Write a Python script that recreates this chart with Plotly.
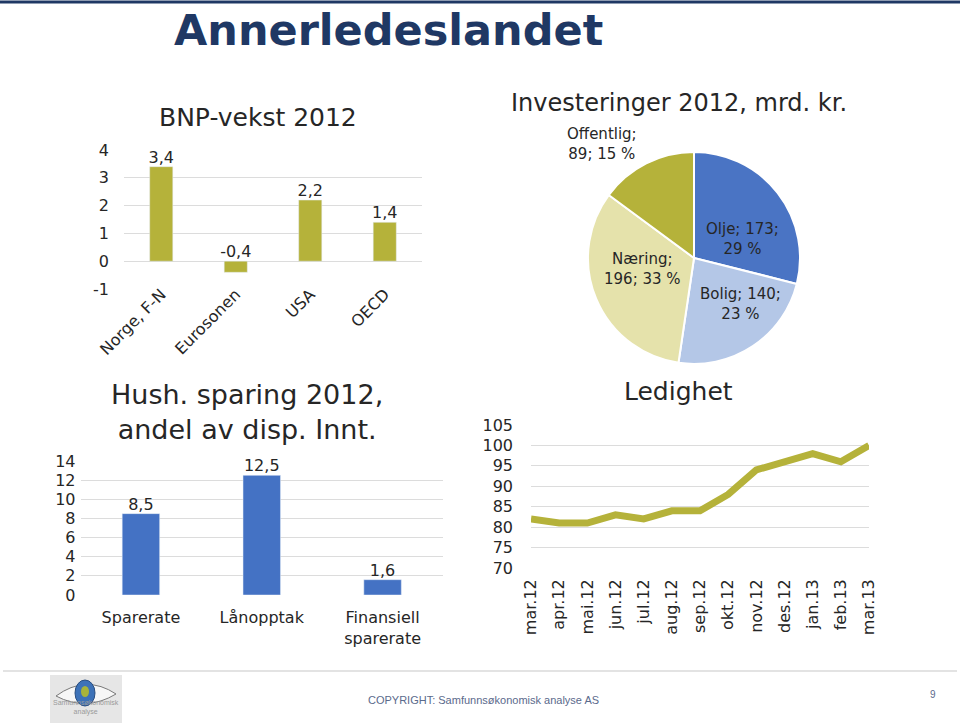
import plotly.graph_objects as go

# ---------------- data ----------------
bnp_categories = ["Norge, F-N", "Eurosonen", "USA", "OECD"]
bnp_values = [3.4, -0.4, 2.2, 1.4]
bnp_ticks = [-1, 0, 1, 2, 3, 4]

inv_labels = ["Olje", "Bolig", "Næring", "Offentlig"]
inv_values = [173, 140, 196, 89]
inv_pct = [29, 23, 33, 15]

spar_categories = ["Sparerate", "Lånopptak", "Finansiell<br>sparerate"]
spar_values = [8.5, 12.5, 1.6]
spar_ticks = [0, 2, 4, 6, 8, 10, 12, 14]

led_months = ["mar.12", "apr.12", "mai.12", "jun.12", "jul.12", "aug.12", "sep.12",
              "okt.12", "nov.12", "des.12", "jan.13", "feb.13", "mar.13"]
led_values = [82, 81, 81, 83, 82, 84, 84, 88, 94, 96, 98, 96, 100]
led_ticks = [70, 75, 80, 85, 90, 95, 100, 105]

# ---------------- styling ----------------
W, H = 960, 724
OLIVE = "#B5B23A"
BLUE = "#4472C4"
PIE_COLORS = ["#4A74C4", "#B4C7E7", "#E5E2AB", "#B5B23A"]
NAVY = "#1F3864"
TXT = "#262626"
GRID = "#DCDCDC"
FONT = "DejaVu Sans, Verdana, sans-serif"


def px(x):
    return x / W


def py(y):
    return 1 - y / H


def fmt(v):
    return f"{v:.1f}".replace(".", ",")


def tlabel(v):
    return str(v).replace("−", "-")


fig = go.Figure()

# BNP bars
fig.add_trace(go.Bar(x=bnp_categories, y=bnp_values, marker_color=OLIVE, width=0.31,
                     xaxis="x", yaxis="y", hoverinfo="skip"))
fig.add_trace(go.Scatter(x=bnp_categories, y=[max(v, 0) for v in bnp_values],
                         text=[fmt(v) for v in bnp_values], mode="text",
                         textposition="top center",
                         textfont=dict(size=16, color=TXT, family=FONT),
                         xaxis="x", yaxis="y", hoverinfo="skip", cliponaxis=False))

# Pie
fig.add_trace(go.Pie(labels=inv_labels, values=inv_values, sort=False, direction="clockwise",
                     rotation=0, marker=dict(colors=PIE_COLORS, line=dict(color="white", width=2)),
                     textinfo="none", hoverinfo="skip",
                     domain=dict(x=[px(588), px(800)], y=[py(364), py(152)])))

# Sparing bars
fig.add_trace(go.Bar(x=spar_categories, y=spar_values, marker_color=BLUE, width=0.31,
                     xaxis="x2", yaxis="y2", hoverinfo="skip"))
fig.add_trace(go.Scatter(x=spar_categories, y=spar_values,
                         text=[fmt(v) for v in spar_values], mode="text",
                         textposition="top center",
                         textfont=dict(size=16, color=TXT, family=FONT),
                         xaxis="x2", yaxis="y2", hoverinfo="skip", cliponaxis=False))

# Ledighet line
fig.add_trace(go.Scatter(x=led_months, y=led_values, mode="lines",
                         line=dict(color=OLIVE, width=7),
                         xaxis="x3", yaxis="y3", hoverinfo="skip"))

tickfont = dict(size=16, color=TXT, family=FONT)

fig.update_layout(
    width=W, height=H, margin=dict(l=0, r=0, t=0, b=0, autoexpand=False),
    paper_bgcolor="white", plot_bgcolor="white", showlegend=False,
    font=dict(family=FONT, color=TXT),
    xaxis=dict(domain=[px(124), px(422)], tickangle=-45, tickfont=tickfont, automargin=False,
               showgrid=False, showline=False, ticks="", ticklabelstandoff=-8),
    yaxis=dict(domain=[py(289), py(150)], range=[-1, 4], tickvals=bnp_ticks,
               ticktext=[tlabel(v) for v in bnp_ticks], automargin=False,
               tickfont=tickfont, gridcolor=GRID, zeroline=False, showline=False,
               ticklabelstandoff=14, anchor="x"),
    xaxis2=dict(domain=[px(80.5), px(443)], tickfont=tickfont, showgrid=False, automargin=False,
                showline=False, ticks="", anchor="y2", ticklabelstandoff=11),
    yaxis2=dict(domain=[py(595), py(461)], range=[0, 14], tickvals=spar_ticks,
                ticktext=[tlabel(v) for v in spar_ticks], automargin=False,
                tickfont=tickfont, gridcolor=GRID, zeroline=False, showline=False,
                anchor="x2", ticklabelstandoff=4),
    xaxis3=dict(domain=[px(531), px(869)], tickangle=-90, tickfont=tickfont, automargin=False,
                showgrid=False, showline=False, ticks="", anchor="y3",
                ticklabelstandoff=7),
    yaxis3=dict(domain=[py(568), py(425)], range=[70, 105], tickvals=led_ticks,
                ticktext=[tlabel(v) for v in led_ticks], automargin=False,
                tickfont=tickfont, gridcolor=GRID, zeroline=False, showline=False,
                anchor="x3", ticklabelstandoff=17),
    bargap=0.69,
)

annotations = []


def ann(text, x, y, size, color=TXT, bold=False, family=FONT, xanchor="center"):
    annotations.append(dict(text=f"<b>{text}</b>" if bold else text, x=px(x), y=py(y),
                            xref="paper", yref="paper", showarrow=False,
                            xanchor=xanchor, yanchor="middle",
                            font=dict(size=size, color=color, family=family)))


ann("Annerledeslandet", 388, 30, 43, color=NAVY, bold=True)
ann("BNP-vekst 2012", 258, 118, 25)
ann("Investeringer 2012, mrd. kr.", 679, 103, 24)
ann("Hush. sparing 2012,<br>andel av disp. Innt.", 247, 412, 27)
ann("Ledighet", 678, 392, 25)

pie_label_pos = [(742, 239), (740, 304), (642, 269), (602, 144)]
for lab, val, pct, (lx, ly) in zip(inv_labels, inv_values, inv_pct, pie_label_pos):
    ann(f"{lab}; {val};<br>{pct} %" if lab != "Næring" and lab != "Offentlig"
        else f"{lab};<br>{val}; {pct} %", lx, ly, 15)

ann("COPYRIGHT: Samfunnsøkonomisk analyse AS", 483, 700, 11, color="#5B6A8C",
    family="Liberation Sans, Arial, sans-serif")
ann("9", 933, 694, 10, color="#5B6A8C", family="Liberation Sans, Arial, sans-serif")
ann("Samfunnsøkonomisk<br>analyse", 121, 707, 7, color="#9A9A9A",
    family="Liberation Sans, Arial, sans-serif", xanchor="right")

fig.update_layout(annotations=annotations)

shapes = [
    dict(type="line", xref="paper", yref="paper", x0=0, x1=1, y0=py(2), y1=py(2),
         line=dict(color=NAVY, width=3)),
    dict(type="line", xref="paper", yref="paper", x0=px(3), x1=px(957), y0=py(671), y1=py(671),
         line=dict(color="#E3E3E3", width=2)),
    # logo approximation
    dict(type="rect", xref="paper", yref="paper", x0=px(50), x1=px(122), y0=py(723), y1=py(675),
         fillcolor="#E6E6E6", line=dict(width=0), layer="below"),
    dict(type="path", xref="paper", yref="paper",
         path=f"M {px(56)},{py(696)} Q {px(86)},{py(674)} {px(116)},{py(694)} "
              f"Q {px(86)},{py(712)} {px(56)},{py(696)} Z",
         fillcolor="#F7F7F7", line=dict(color="#7A7A7A", width=1)),
    dict(type="circle", xref="paper", yref="paper", x0=px(75), x1=px(95), y0=py(706), y1=py(680),
         fillcolor="#3D72B8", line=dict(color="#2A4E80", width=1)),
    dict(type="circle", xref="paper", yref="paper", x0=px(81), x1=px(89), y0=py(697), y1=py(686),
         fillcolor="#A8B43A", line=dict(width=0)),
]
fig.update_layout(shapes=shapes)

fig.write_html("out.html", config={"displayModeBar": False},
               post_script="document.body.style.margin='0';document.body.style.padding='0';")
